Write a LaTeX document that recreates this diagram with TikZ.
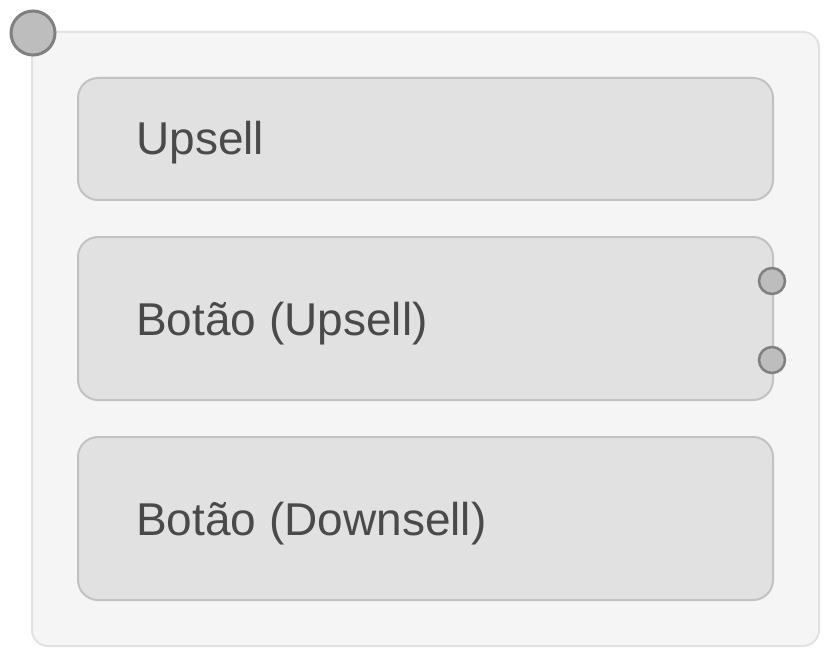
\documentclass[tikz,border=0pt]{standalone}
\usepackage{fontspec}
\setmainfont{Liberation Sans}
\usetikzlibrary{positioning}
\definecolor{framefill}{HTML}{F5F5F5}
\definecolor{frameline}{HTML}{E2E2E2}
\definecolor{boxfill}{HTML}{E1E1E1}
\definecolor{boxline}{HTML}{C2C2C2}
\definecolor{handlefill}{HTML}{BDBDBD}
\definecolor{handleline}{HTML}{808080}
\definecolor{labeltext}{HTML}{4A4A4A}

\begin{document}
\begin{tikzpicture}[%
		x=0.75pt, y=-0.75pt,
		container/.style={
			rectangle,
			rounded corners=12pt,
			minimum width=590.25pt,
			minimum height=460.5pt,
			inner sep=0pt,
			line width=1.5pt,
			fill=framefill,
			draw=frameline
		},
		block/.style={
			rectangle,
			rounded corners=15pt,
			minimum width=521.25pt,
			inner sep=0pt,
			line width=1.5pt,
			fill=boxfill,
			draw=boxline
		},
		tall/.style={
			minimum height=122.25pt
		},
		short/.style={
			minimum height=91.5pt
		},
		blocklabel/.style={
			anchor=base west,
			inner sep=0pt,
			text=labeltext,
			font=\fontsize{34.5pt}{40pt}\selectfont
		},
		handle/.style={
			circle,
			minimum size=19.5pt,
			inner sep=0pt,
			line width=1.9pt,
			fill=handlefill,
			draw=handleline
		},
		corner/.style={
			minimum size=33pt,
			line width=2.25pt
		}]

		\useasboundingbox (0,0) rectangle (828,656);

		% FRAME

		\node (frame) [container] at (425.5,339) {};

		% BLOCKS

		\node (upsell) [block,short] at (425.5,139) {};
		\node (btnup) [block,tall] at (425.5,318.5) {};
		\node (btndown) [block,tall] at (425.5,518.5) {};

		\node (upsell-lbl) [blocklabel] at (136,155) {Upsell};
		\node (btnup-lbl) [blocklabel] at (136,335) {Botão (Upsell)};
		\node (btndown-lbl) [blocklabel] at (136,535) {Botão (Downsell)};

		% HANDLES

		\node (h-frame) [handle,corner] at (33,33) {};
		\node (h-yes) [handle] at (772,281) {};
		\node (h-no) [handle] at (772,360) {};
\end{tikzpicture}
\end{document}
